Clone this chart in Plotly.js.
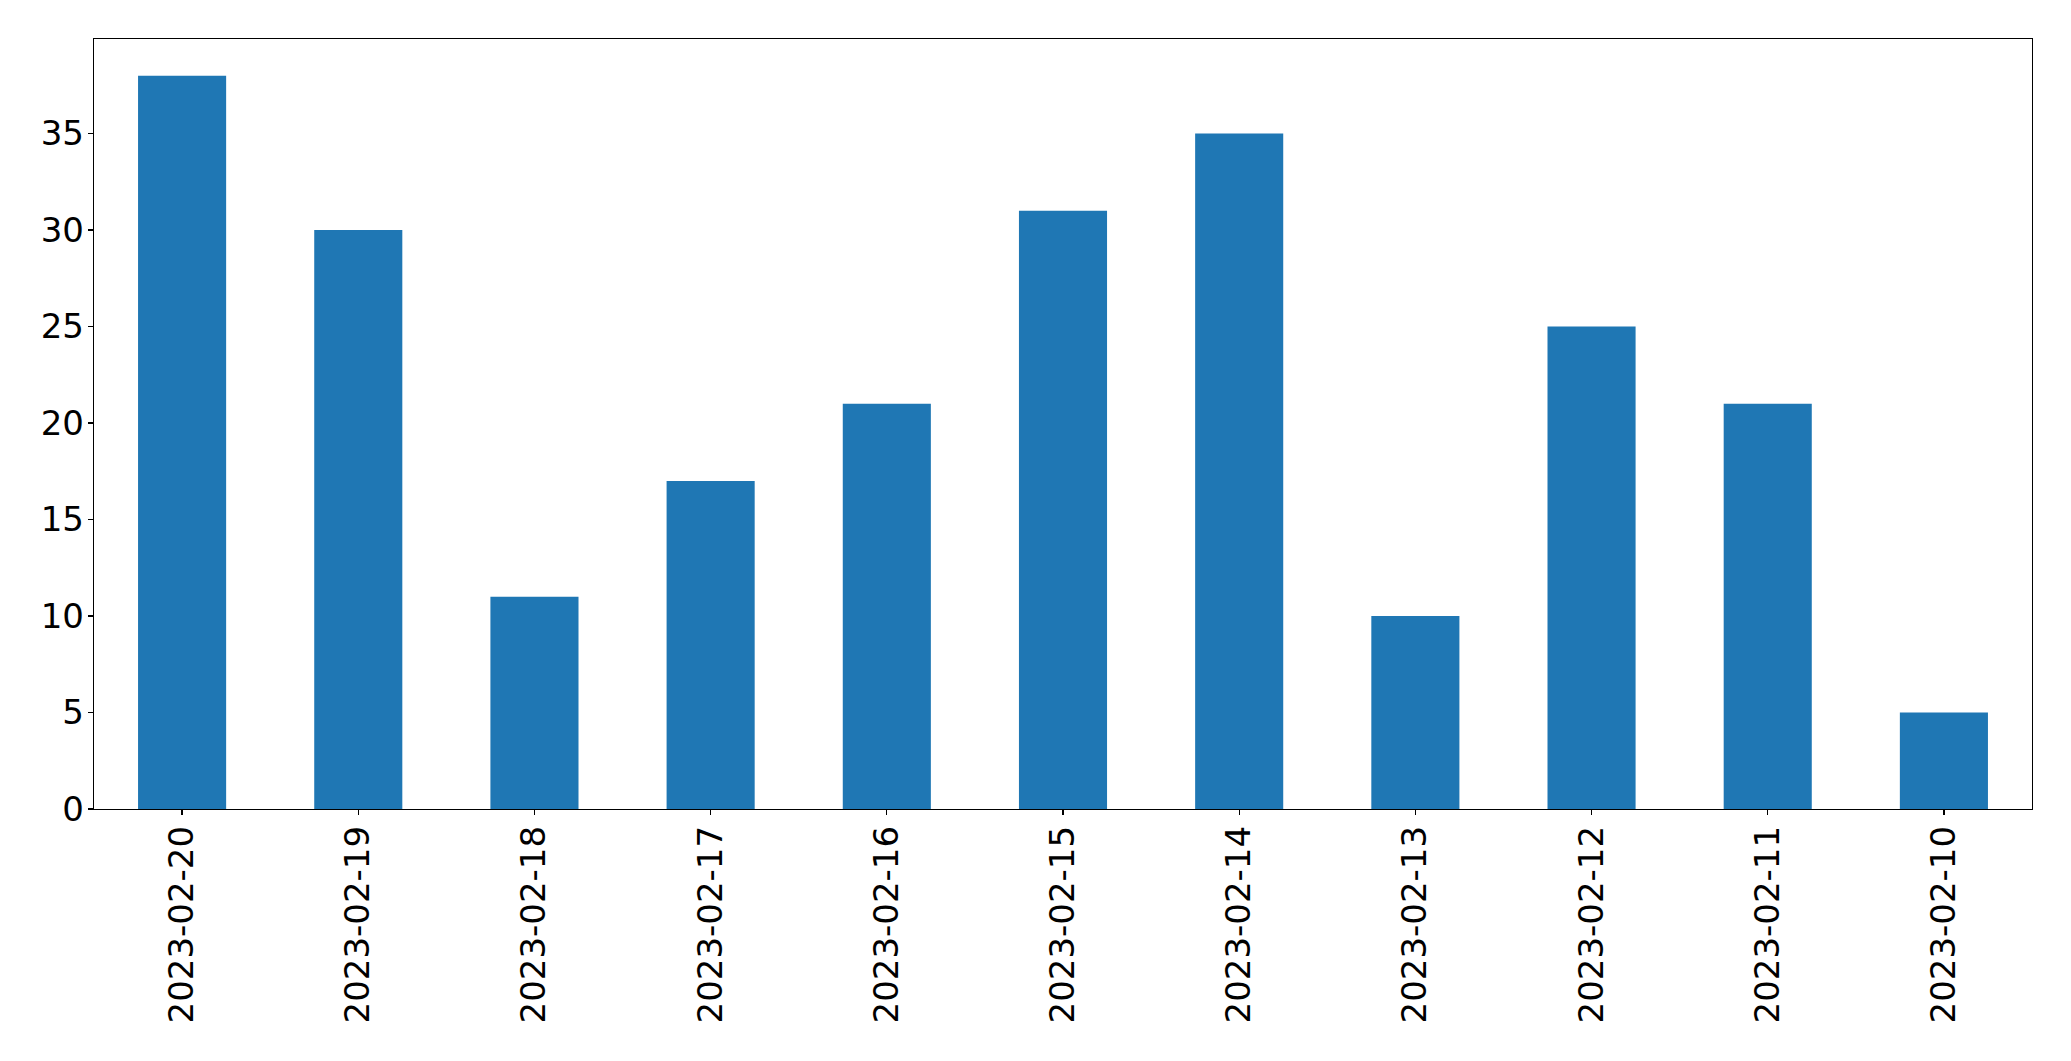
<!DOCTYPE html>
<html>
<head>
<meta charset="utf-8">
<script src="https://cdn.plot.ly/plotly-3.0.1.min.js"></script>
<style>html,body{margin:0;padding:0;background:#fff;}#chart{width:2071px;height:1061px;}</style>
</head>
<body>
<div id="chart"></div>
<script>
const categories = ["2023-02-20","2023-02-19","2023-02-18","2023-02-17","2023-02-16","2023-02-15","2023-02-14","2023-02-13","2023-02-12","2023-02-11","2023-02-10"];
const values = [38, 30, 11, 17, 21, 31, 35, 10, 25, 21, 5];
const yTicks = [0, 5, 10, 15, 20, 25, 30, 35];

const trace = {
  type: 'bar',
  x: categories,
  y: values,
  width: 0.5,
  marker: {color: '#1f77b4', line: {width: 0}},
  hoverinfo: 'x+y'
};

const layout = {
  width: 2071,
  height: 1061,
  margin: {l: 94, r: 39, t: 39, b: 252, autoexpand: false},
  paper_bgcolor: '#ffffff',
  plot_bgcolor: '#ffffff',
  font: {family: 'DejaVu Sans, sans-serif', size: 34, color: '#000000'},
  showlegend: false,
  bargap: 0.5,
  xaxis: {
    type: 'category',
    range: [-0.5, 10.5],
    tickangle: -90,
    showline: true,
    mirror: true,
    linecolor: '#000000',
    linewidth: 1.3,
    ticks: 'outside',
    ticklen: 5,
    tickwidth: 1.3,
    tickcolor: '#000000',
    showgrid: false,
    zeroline: false,
    ticklabelstandoff: -3,
    tickfont: {family: 'DejaVu Sans, sans-serif', size: 34, color: '#000000'}
  },
  yaxis: {
    range: [0, 39.9],
    tickmode: 'array',
    tickvals: yTicks,
    ticktext: yTicks.map(String),
    showline: true,
    mirror: true,
    linecolor: '#000000',
    linewidth: 1.3,
    ticks: 'outside',
    ticklen: 5,
    tickwidth: 1.3,
    tickcolor: '#000000',
    showgrid: false,
    zeroline: false,
    ticklabelstandoff: -3,
    tickfont: {family: 'DejaVu Sans, sans-serif', size: 34, color: '#000000'}
  }
};

Plotly.newPlot('chart', [trace], layout, {displayModeBar: false, staticPlot: true});
</script>
</body>
</html>
